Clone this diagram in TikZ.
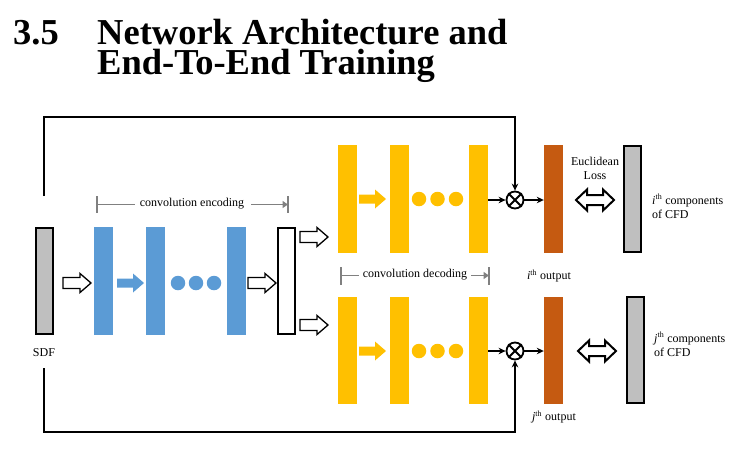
\documentclass[tikz,border=0pt]{standalone}
\usepackage{fontspec}
\setmainfont{Liberation Serif}
\usetikzlibrary{arrows.meta,calc}
\definecolor{encblue}{HTML}{5B9BD5}
\definecolor{decorange}{HTML}{FFC000}
\definecolor{outbrown}{HTML}{C55A11}
\definecolor{bargray}{HTML}{BFBFBF}
\definecolor{brgray}{HTML}{808080}
\tikzset{
  bar/.style={rectangle, inner sep=0pt, minimum width=19pt, minimum height=108pt},
  bluebar/.style={bar, fill=encblue},
  orbar/.style={bar, fill=decorange},
  brbar/.style={bar, fill=outbrown},
  framebar/.style={rectangle, inner sep=0pt, draw=black, line width=2pt, minimum width=17pt, minimum height=106pt},
  dot/.style={circle, inner sep=0pt, minimum size=14.5pt},
  lbl/.style={inner sep=0pt, font=\fontsize{12}{14.5}\selectfont},
  conn/.style={line width=1.9pt, draw=black},
  tip/.style={-{Stealth[length=7pt,width=6.5pt]}},
  otimes/.style={circle, draw=black, line width=1.8pt, inner sep=0pt, minimum size=17pt},
  bracket/.style={draw=brgray, line width=1.8pt},
  btip/.style={-{Triangle[length=5.5pt,width=7pt]}},
  harrow/.pic={\draw[line width=1.3pt, fill=white] (0,-5.5) -- (17,-5.5) -- (17,-9.5) -- (28,0) -- (17,9.5) -- (17,5.5) -- (0,5.5) -- cycle;},
  farrow/.pic={\fill[#1] (0,-4.5) -- (16,-4.5) -- (16,-9.5) -- (27,0) -- (16,9.5) -- (16,4.5) -- (0,4.5) -- cycle;},
  darrow/.pic={\draw[line width=2pt, fill=white] (-19,0) -- (-8,-10.5) -- (-8,-5) -- (8,-5) -- (8,-10.5) -- (19,0) -- (8,10.5) -- (8,5) -- (-8,5) -- (-8,10.5) -- cycle;}
}
\begin{document}
\begin{tikzpicture}[x=1pt,y=-1pt]
\useasboundingbox (0,0) rectangle (740,467);
% title
\node[anchor=base west, inner sep=0pt, font=\fontsize{36.5}{40}\selectfont\bfseries] (t0) at (13,44) {3.5};
\node[anchor=north west, inner sep=0pt, align=left, font=\fontsize{36.5}{30}\selectfont\bfseries] (t1) at (97,19) {Network Architecture and\\End-To-End Training};
% input
\node[framebar, fill=bargray] (sdf) at (44,281) {};
\node[lbl] (sdfl) at (44,353) {SDF};
\pic at (63,283) {harrow};
% encoder
\node[bluebar] (e1) at (103.5,281) {};
\pic at (117,283) {farrow=encblue};
\node[bluebar] (e2) at (155.5,281) {};
\node[dot, fill=encblue] (ed1) at (178,283) {};
\node[dot, fill=encblue] (ed2) at (196,283) {};
\node[dot, fill=encblue] (ed3) at (214,283) {};
\node[bluebar] (e3) at (236.5,281) {};
\pic at (248,283) {harrow};
\node[framebar, fill=white] (code) at (286.5,281) {};
\pic at (300,237) {harrow};
\pic at (300,325) {harrow};
% encoding bracket
\node[lbl] (encl) at (192,204) {convolution encoding};
\coordinate (encL) at (97,204.5);
\coordinate (encR) at (288,204.5);
\draw[bracket] (97,196) -- (97,213);
\draw[bracket] (288,196) -- (288,213);
\draw[bracket] (encL) -- ($(encl.west)+(-5,0.5)$);
\draw[bracket, btip] ($(encl.east)+(7,0.5)$) -- (encR);
% top decoder
\node[orbar] (a1) at (347.5,199) {};
\pic at (359,199) {farrow=decorange};
\node[orbar] (a2) at (399.5,199) {};
\node[dot, fill=decorange] (ad1) at (419,199) {};
\node[dot, fill=decorange] (ad2) at (437.5,199) {};
\node[dot, fill=decorange] (ad3) at (456,199) {};
\node[orbar] (a3) at (478.5,199) {};
\node[otimes] (ot1) at (515,200) {};
\draw[line width=1.8pt] (ot1.north west) -- (ot1.south east) (ot1.north east) -- (ot1.south west);
\node[brbar] (o1) at (553.5,198.5) {};
\draw[conn, tip] (a3.east |- ot1.west) -- (ot1.west);
\draw[conn, tip] (ot1.east) -- (o1.west |- ot1.east);
\node[lbl] (o1l) at (549,276) {\textit{i}\textsuperscript{th} output};
\node[lbl, align=center] (loss) at (595,168.5) {Euclidean\\Loss};
\pic at (595,200) {darrow};
\node[framebar, fill=bargray] (c1) at (632.5,199) {};
\node[lbl, anchor=west, align=left] (c1l) at (652,206.5) {\textit{i}\textsuperscript{th} components\\of CFD};
% decoding bracket
\node[lbl] (decl) at (415,275) {convolution decoding};
\coordinate (decL) at (341,275.5);
\coordinate (decR) at (489,275.5);
\draw[bracket] (341,267) -- (341,285);
\draw[bracket] (489,267) -- (489,285);
\draw[bracket] (decL) -- ($(decl.west)+(-4,0.5)$);
\draw[bracket, btip] ($(decl.east)+(4,0.5)$) -- (decR);
% bottom decoder
\node[orbar, minimum height=107pt] (b1) at (347.5,350.5) {};
\pic at (359,351) {farrow=decorange};
\node[orbar, minimum height=107pt] (b2) at (399.5,350.5) {};
\node[dot, fill=decorange] (bd1) at (419,351) {};
\node[dot, fill=decorange] (bd2) at (437.5,351) {};
\node[dot, fill=decorange] (bd3) at (456,351) {};
\node[orbar, minimum height=107pt] (b3) at (478.5,350.5) {};
\node[otimes] (ot2) at (515,351) {};
\draw[line width=1.8pt] (ot2.north west) -- (ot2.south east) (ot2.north east) -- (ot2.south west);
\node[brbar, minimum height=107pt] (o2) at (553.5,350.5) {};
\draw[conn, tip] (b3.east |- ot2.west) -- (ot2.west);
\draw[conn, tip] (ot2.east) -- (o2.west |- ot2.east);
\node[lbl] (o2l) at (554,417) {\textit{j}\textsuperscript{th} output};
\pic at (597,351) {darrow};
\node[framebar, fill=bargray] (c2) at (635,350) {};
\node[lbl, anchor=west, align=left] (c2l) at (654,344.5) {\textit{j}\textsuperscript{th} components\\of CFD};
% skip connections
\coordinate (tl) at (44,196);
\coordinate (tc) at (515,117);
\draw[conn, tip] (tl) |- (tc) -- (ot1.north);
\coordinate (bl) at (44,368);
\coordinate (bc) at (515,432);
\draw[conn, tip] (bl) |- (bc) -- (ot2.south);
\end{tikzpicture}
\end{document}
